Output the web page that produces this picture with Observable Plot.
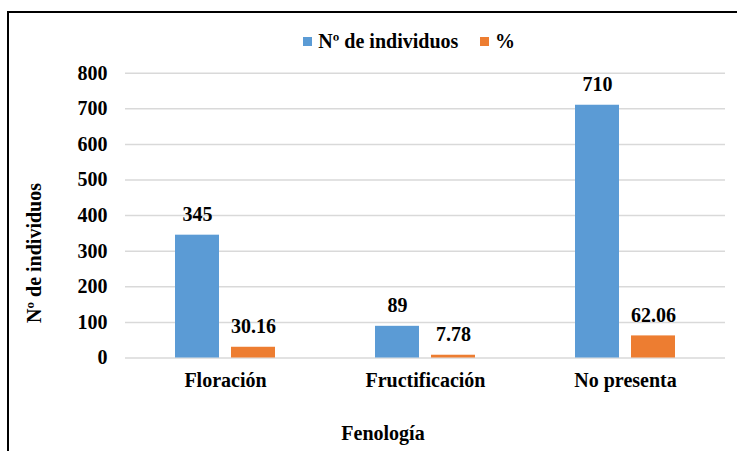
<!DOCTYPE html>
<html>
<head>
<meta charset="utf-8">
<script src="https://cdn.jsdelivr.net/npm/d3@7"></script>
<script src="https://cdn.jsdelivr.net/npm/@observablehq/plot@0.6"></script>
<style>
  html, body { margin: 0; padding: 0; background: #fff; }
  #wrap { position: relative; width: 737px; height: 451px; overflow: hidden; color: #000; }
  #frame { position: absolute; left: 7px; top: 11px; width: 900px; height: 900px; border: 2px solid #000; box-sizing: border-box; }
  #chart { position: absolute; left: 0; top: 0; }
  .lab { position: absolute; font-size: 20px; line-height: 20px; white-space: nowrap; }
  .sw { position: absolute; width: 9px; height: 9px; }
  svg text { font-family: "Liberation Serif"; font-weight: bold; }
</style>
</head>
<body>
<div id="wrap">
  <div id="frame"></div>
  <div id="chart"></div>
  <div id="legend"></div>
  <div class="lab" id="ytitle" style="left:34px;top:252.5px;transform:translate(-50%,-50%) rotate(-90deg);"></div>
  <div class="lab" id="xtitle" style="left:383px;top:422.5px;transform:translateX(-50%);"></div>
</div>
<script>
const categories = ["Floración", "Fructificación", "No presenta"];
const seriesNames = ["Nº de individuos", "%"];
const individuos = [345, 89, 710];
const porcentaje = [30.16, 7.78, 62.06];
const colors = ["#5B9BD5", "#ED7D31"];
const yTicks = [0, 100, 200, 300, 400, 500, 600, 700, 800];
const xTitle = "Fenología";
const yTitle = "Nº de individuos";
const FONT = '"Liberation Serif"';

const data = [];
categories.forEach((c, i) => {
  data.push({category: c, series: seriesNames[0], value: individuos[i], label: String(individuos[i])});
  data.push({category: c, series: seriesNames[1], value: porcentaje[i], label: porcentaje[i].toFixed(2)});
});

const chart = Plot.plot({
  width: 737,
  height: 451,
  marginLeft: 125,
  marginRight: 11.5,
  marginTop: 72.7,
  marginBottom: 93.5,
  style: "font-family: " + FONT + "; font-weight: bold; font-size: 20px; color: #000; background: transparent;",
  fx: {domain: categories, padding: 0, label: null},
  x: {domain: seriesNames, paddingInner: 0.21, paddingOuter: 0.86, axis: null},
  y: {domain: [0, 800], label: null},
  color: {domain: seriesNames, range: colors},
  marks: [
    Plot.gridY(yTicks, {stroke: "#d9d9d9", strokeOpacity: 1, strokeWidth: 1.5}),
    Plot.axisY(yTicks, {tickSize: 0, tickPadding: 18, label: null, fill: "#000"}),
    Plot.axisFx({anchor: "bottom", tickSize: 0, tickPadding: 15, label: null, fill: "#000"}),
    Plot.barY(data, {fx: "category", x: "series", y: "value", fill: "series"}),
    Plot.text(data, {fx: "category", x: "series", y: "value", text: "label", lineAnchor: "bottom", dy: -14, fill: "#000"})
  ]
});
document.getElementById("chart").appendChild(chart);

function styleLab(el) {
  el.style.fontFamily = FONT;
  el.style.fontWeight = "bold";
}
const yt = document.getElementById("ytitle");
yt.textContent = yTitle; styleLab(yt);
const xt = document.getElementById("xtitle");
xt.textContent = xTitle; styleLab(xt);

const legend = document.getElementById("legend");
const legendPos = [{sw: 303.3, tx: 318.3}, {sw: 480, tx: 495}];
seriesNames.forEach((s, i) => {
  const sw = document.createElement("div");
  sw.className = "sw";
  sw.style.left = legendPos[i].sw + "px";
  sw.style.top = "37px";
  sw.style.background = colors[i];
  legend.appendChild(sw);
  const t = document.createElement("div");
  t.className = "lab";
  t.style.left = legendPos[i].tx + "px";
  t.style.top = "31px";
  t.textContent = s;
  styleLab(t);
  legend.appendChild(t);
});
</script>
</body>
</html>
